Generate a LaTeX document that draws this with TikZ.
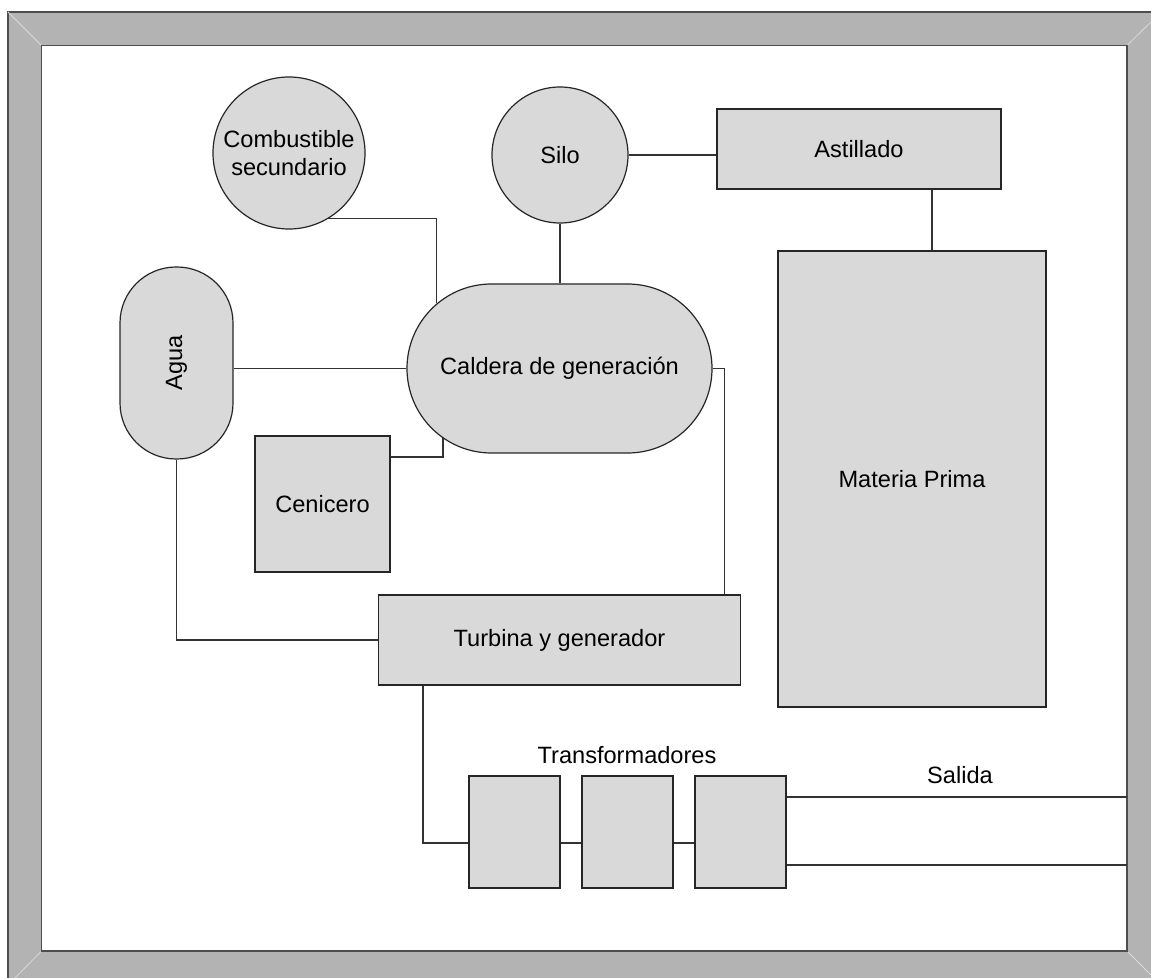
\documentclass[tikz,border=0pt]{standalone}
\usepackage{fontspec}
\setmainfont{Liberation Sans}
\usetikzlibrary{shapes.misc}
\definecolor{boxgray}{HTML}{D9D9D9}
\definecolor{framegray}{HTML}{B3B3B3}
\definecolor{frameline}{HTML}{4D4D4D}
\newcommand\colorBox{boxgray}
\newcommand\colorFrame{framegray}
\newcommand\colorPipe{black!80}
\newcommand\trafoShift{-5.5pt}
\tikzset{
	unit/.style={draw=black!85, fill=\colorBox, line width=0.6pt, inner sep=0pt, align=center},
	pipe/.style={draw=\colorPipe, line width=0.6pt},
}

\begin{document}
\begin{tikzpicture}[x=0.5pt, y=-0.5pt, font=\fontsize{11.8}{14}\selectfont]
		\useasboundingbox (0,0) rectangle (1151,978);
	
		\fill[color=\colorFrame] (8,12) rectangle (1161,985);
		\draw[color=frameline, line width=0.8pt] (8,985) -- (8,12) -- (1161,12);
		\fill[white] (41.5,45.5) rectangle (1127,951);
		\draw[color=white!85!black, line width=0.4pt] (8,12) to (41.5,45.5);
		\draw[color=white!85!black, line width=0.4pt] (1161,12) to (1127,45.5);
		\draw[color=white!85!black, line width=0.4pt] (8,985) to (41.5,951);
		\draw[color=white!85!black, line width=0.4pt] (1161,985) to (1127,951);
		\draw[color=frameline, line width=0.8pt] (41.5,45.5) rectangle (1127,951);
	
		\node[unit, circle, minimum size=76pt] (comb) at (289,153) {Combustible\\secundario};
		\node[unit, circle, minimum size=68pt] (silo) at (560,155) {Silo};
		\node[unit, minimum width=142pt, minimum height=40pt] (astillado) at (859,149) {Astillado};
		\node[unit, minimum width=134pt, minimum height=228pt] (materia) at (912,479) {Materia Prima};
		\node[unit, rounded rectangle, minimum width=152.5pt, minimum height=84.5pt] (caldera) at (559.5,368.5) {Caldera de generación};
		\node[unit, rounded corners=28pt, minimum width=56.5pt, minimum height=96pt] (agua) at (176.5,363) {\rotatebox{90}{Agua}};
		\node[unit, minimum width=67.5pt, minimum height=68pt] (cenicero) at (322.5,504) {Cenicero};
		\node[unit, minimum width=181pt, minimum height=45pt] (turbina) at (559.5,640) {Turbina y generador};
		\foreach \i in {1,2,3}{
			\node[unit, minimum width=45.5pt, minimum height=56pt] (t\i) at (401.5+113*\i,832) {};
		}
		\node (trafos) at (627,755) {Transformadores};
		\node (salida) at (960,775) {Salida};
		\coordinate (salidaA) at (1127,797);
		\coordinate (salidaB) at (1127,865);
	
		\draw[pipe] (comb.-59) -| (caldera.152);
		\draw[pipe] (silo.south) -- (silo.south |- caldera.north);
		\draw[pipe] (silo.east) -- (silo.east -| astillado.west);
		\draw[pipe] ([xshift=10pt]materia.north) -- ([xshift=10pt]materia.north |- astillado.south);
		\draw[pipe] (caldera.west) -- (caldera.west -| agua.east);
		\draw[pipe] ([yshift=23.5pt]cenicero.east) -| (caldera.211);
		\draw[pipe] (caldera.east) -| ([xshift=-8.5pt]turbina.north east);
		\draw[pipe] (agua.south) |- (turbina.west);
		\draw[pipe] ([xshift=22.5pt]turbina.south west) |- ([yshift=\trafoShift]t1.west);
		\draw[pipe] ([yshift=\trafoShift]t1.east) -- ([yshift=\trafoShift]t2.west);
		\draw[pipe] ([yshift=\trafoShift]t2.east) -- ([yshift=\trafoShift]t3.west);
		\draw[pipe] (t3.east |- salidaA) -- (salidaA);
		\draw[pipe] (t3.east |- salidaB) -- (salidaB);
	\end{tikzpicture}
\end{document}
